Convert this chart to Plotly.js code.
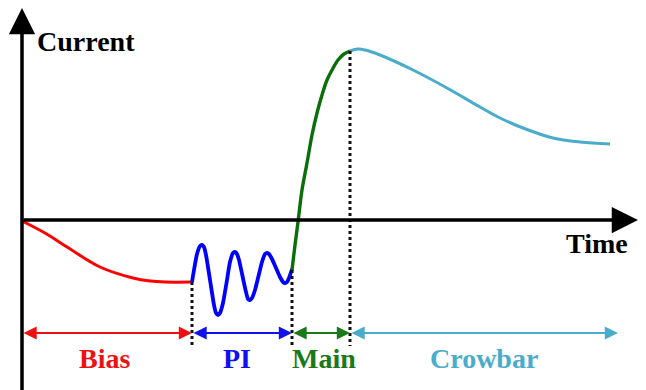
<!DOCTYPE html>
<html>
<head>
<meta charset="utf-8">
<script src="https://cdn.plot.ly/plotly-3.0.1.min.js"></script>
<style>
  html, body { margin: 0; padding: 0; background: #ffffff; }
  #chart { width: 646px; height: 390px; }
</style>
</head>
<body>
<div id="chart"></div>
<script>
// Discharge current waveform, split into its four phases.
// Time runs along x, current along y; the axes cross at (0, 0).

const biasTime = [0, 23, 45, 78, 111, 128, 143, 170];
const biasCurrent = [-1, -13, -27, -47, -58, -61, -62, -62];

const piTime = [170, 172, 175, 178, 180, 182, 184, 188, 192, 194, 196,
                198, 201, 204.5, 208, 211, 213, 215, 217, 220.5, 224, 226, 228,
                230, 233, 236.5, 240, 243, 245, 247, 250, 254, 258, 261, 263,
                265, 267, 270];
const piCurrent = [-62, -50, -34, -26, -25, -27, -35, -60, -85, -93, -95,
                   -93, -83, -63, -42, -33, -32, -34, -40, -56, -72, -79, -80,
                   -78, -70, -56, -42, -34, -33, -34, -39, -48, -57, -62, -63,
                   -62, -58, -49];

const mainTime = [270, 273, 276, 280, 285, 290, 295, 300, 305, 310, 316, 322, 328];
const mainCurrent = [-50, -25, -2, 30, 57, 85, 107, 125, 140, 150, 160, 166, 169];

const crowbarTime = [328, 336, 343, 358, 391, 425, 458, 478, 501, 531, 558, 588];
const crowbarCurrent = [169, 171, 170, 165, 150, 132, 113, 102, 92, 82, 78, 76];

// phase boundaries and the extent of each phase bracket
const phaseNames = ['Bias', 'PI', 'Main', 'Crowbar'];
const phaseStart = [0, 170, 270, 328];
const phaseEnd = [170, 270, 328, 596];
const phaseLabelTime = [82, 215, 302, 462];
const phaseColors = ['#ee1111', '#1111ee', '#1a7a1a', '#4aaccb'];
const curveColors = ['#ff0000', '#0000ff', '#0a6e0a', '#4aaccb'];
const curveWidths = [3, 3.8, 3.4, 3];

const bracketLevel = -113;
const labelLevel = -138;
const dropLevel = -126;

function labelFont(color) {
  return { family: 'Liberation Serif', size: 28, weight: 'bold', color: color };
}

function curve(x, y, i, smooth) {
  return {
    type: 'scatter', mode: 'lines', x: x, y: y,
    line: { color: curveColors[i], width: curveWidths[i], shape: 'spline', smoothing: smooth },
    hoverinfo: 'skip', showlegend: false
  };
}

function drop(t, from) {
  return {
    type: 'scatter', mode: 'lines', x: [t, t], y: [from, dropLevel],
    line: { color: '#111111', width: 3, dash: 'dot' },
    hoverinfo: 'skip', showlegend: false
  };
}

const traces = [
  curve(biasTime, biasCurrent, 0, 1),
  curve(piTime, piCurrent, 1, 0.6),
  curve(mainTime, mainCurrent, 2, 1),
  curve(crowbarTime, crowbarCurrent, 3, 1),
  drop(phaseStart[1], biasCurrent[biasCurrent.length - 1]),
  drop(phaseStart[2], mainCurrent[0]),
  drop(phaseStart[3], mainCurrent[mainCurrent.length - 1])
];

const annotations = [];

// axes with arrow heads
annotations.push({
  x: 0, y: 212, ax: 0, ay: -172, xref: 'x', yref: 'y', axref: 'x', ayref: 'y',
  text: '', showarrow: true, arrowhead: 2, arrowsize: 1.5, arrowwidth: 3.5, arrowcolor: '#000000'
});
annotations.push({
  x: 616, y: 0, ax: 0, ay: 0, xref: 'x', yref: 'y', axref: 'x', ayref: 'y',
  text: '', showarrow: true, arrowhead: 2, arrowsize: 1.5, arrowwidth: 3.5, arrowcolor: '#000000'
});

// axis names
annotations.push({
  x: 13, y: 179, xref: 'x', yref: 'y', xanchor: 'left', yanchor: 'middle',
  text: 'Current', showarrow: false, font: labelFont('#000000')
});
annotations.push({
  x: 608, y: -23, xref: 'x', yref: 'y', xanchor: 'right', yanchor: 'middle',
  text: 'Time', showarrow: false, font: labelFont('#000000')
});

// phase brackets and names
phaseNames.forEach(function (name, i) {
  annotations.push({
    x: phaseEnd[i], y: bracketLevel, ax: phaseStart[i], ay: bracketLevel,
    xref: 'x', yref: 'y', axref: 'x', ayref: 'y',
    text: '', showarrow: true, arrowside: 'end+start',
    arrowhead: 2, startarrowhead: 2, arrowsize: 1.2, startarrowsize: 1.2,
    arrowwidth: 2.2, arrowcolor: phaseColors[i]
  });
  annotations.push({
    x: phaseLabelTime[i], y: labelLevel, xref: 'x', yref: 'y',
    xanchor: 'center', yanchor: 'middle', text: name, showarrow: false,
    font: labelFont(phaseColors[i])
  });
});

const layout = {
  width: 646, height: 390,
  margin: { l: 0, r: 0, t: 0, b: 0 },
  paper_bgcolor: '#ffffff', plot_bgcolor: '#ffffff',
  xaxis: { range: [-22, 624], visible: false, fixedrange: true },
  yaxis: { range: [-170, 220], visible: false, fixedrange: true },
  annotations: annotations,
  showlegend: false
};

Plotly.newPlot('chart', traces, layout, { staticPlot: true, displayModeBar: false });
</script>
</body>
</html>
